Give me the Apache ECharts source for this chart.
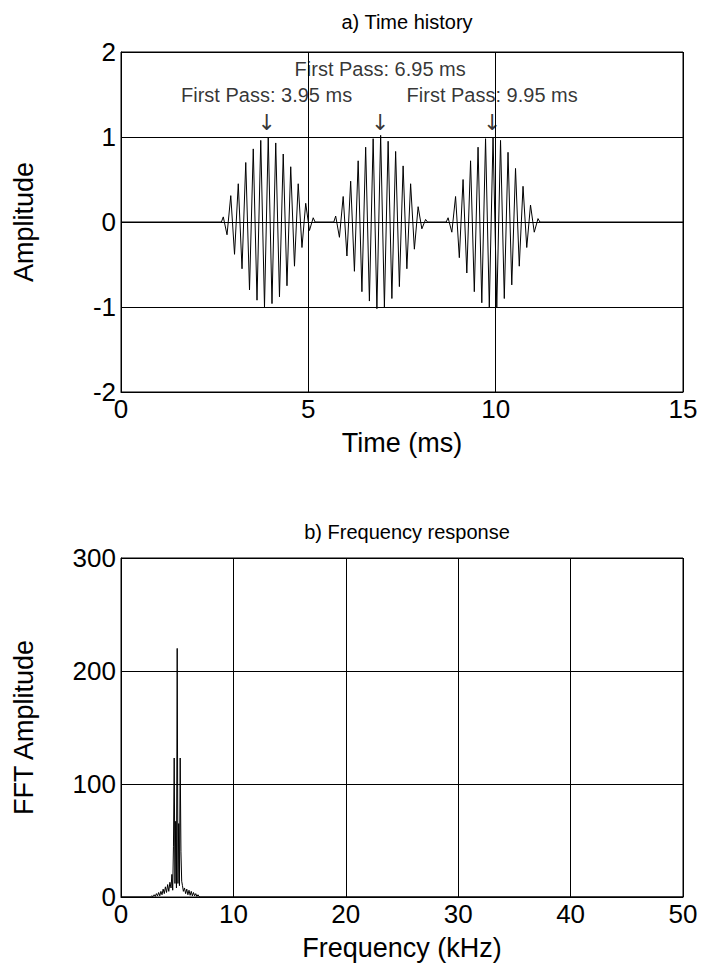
<!DOCTYPE html>
<html><head><meta charset="utf-8">
<script src="https://cdn.jsdelivr.net/npm/echarts@6/dist/echarts.min.js"></script>
<style>html,body{margin:0;padding:0;background:#fff}#c{width:701px;height:965px}</style>
</head><body><div id="c"></div>
<script>
// ---- Data: a) Time history ----
const timeTicks = [0, 5, 10, 15];
const ampTicks = [-2, -1, 0, 1, 2];
// peak times of each tone burst (ms)
const burstCenters = [3.93, 6.93, 9.93];
// times of extrema relative to the burst centre (ms)
const burstOffsets = [-1.25, -1.2, -1.1, -1.0, -0.9, -0.8, -0.7, -0.6, -0.5, -0.4, -0.3, -0.2, -0.1, 0.0,
  0.1, 0.2, 0.3, 0.4, 0.5, 0.6, 0.7, 0.8, 0.9, 1.0, 1.1, 1.2, 1.25];
const burst1Amp = [0, 0.06, -0.15, 0.31, -0.38, 0.45, -0.55, 0.70, -0.80, 0.86, -0.92, 0.96, -1.0, 1.0,
  -0.96, 0.93, -0.88, 0.80, -0.75, 0.65, -0.52, 0.45, -0.30, 0.22, -0.10, 0.05, 0];
const burst2Amp = [0, 0.07, -0.18, 0.30, -0.40, 0.48, -0.58, 0.72, -0.82, 0.88, -0.93, 0.98, -1.02, 1.02,
  -1.0, 0.95, -0.90, 0.83, -0.76, 0.66, -0.55, 0.45, -0.32, 0.18, -0.08, 0.03, 0];
const burst3Amp = [0, 0.05, -0.12, 0.30, -0.42, 0.50, -0.60, 0.72, -0.82, 0.88, -0.95, 0.98, -1.0, 1.0,
  -1.0, 0.96, -0.90, 0.82, -0.74, 0.63, -0.52, 0.42, -0.30, 0.20, -0.12, 0.04, 0];
const signalStart = [0, 0];
const signalEnd = [15, 0];

// annotations
const annotText = ['First Pass: 3.95 ms', 'First Pass: 6.95 ms', 'First Pass: 9.95 ms'];
const annotX = [3.9, 6.93, 9.92];
const annotY = [1.49, 1.80, 1.49];
const arrowY = [1.17, 1.17, 1.17];

// ---- Data: b) Frequency response ----
const freqTicks = [0, 10, 20, 30, 40, 50];
const fftTicks = [0, 100, 200, 300];
const specFreq = [0, 2.6, 2.75, 2.85, 2.95, 3.05, 3.15, 3.25, 3.35, 3.45, 3.55, 3.65, 3.75, 3.85, 3.95,
  4.05, 4.15, 4.25, 4.35, 4.45, 4.53, 4.6, 4.667, 4.733, 4.8, 4.867, 4.933, 5.0, 5.067, 5.133, 5.2,
  5.267, 5.333, 5.4, 5.47, 5.55, 5.65, 5.75, 5.85, 5.95, 6.05, 6.15, 6.25, 6.35, 6.45, 6.55, 6.65,
  6.75, 6.85, 6.95, 7.1, 50];
const specAmp = [0, 0, 1, 0.3, 2, 0.5, 3, 1, 4, 1, 5, 2, 7, 3, 9,
  4, 11, 5, 13, 8, 20, 6, 45, 123, 12, 67, 8, 220, 12, 65, 10,
  123, 40, 14, 10, 5, 8, 3, 7, 2, 6, 1.5, 5, 1, 4, 1, 3,
  0.5, 2, 0.3, 0, 0];

// ---- Build series data ----
const signalData = [signalStart];
[burst1Amp, burst2Amp, burst3Amp].forEach((amps, b) => {
  amps.forEach((a, i) => signalData.push([burstCenters[b] + burstOffsets[i], a]));
});
signalData.push(signalEnd);
const specData = specFreq.map((f, i) => [f, specAmp[i]]);
const annotData = annotX.map((x, i) => [x, annotY[i]]);
const arrowData = annotX.map((x, i) => [x, arrowY[i]]);

const FONT = '"Liberation Sans", Arial, sans-serif';
const FS = 26;      // tick labels
const FS_N = 27;    // axis names
const FS_T = 20;    // titles
const FS_A = 20;    // annotations
const chart = echarts.init(document.getElementById('c'), null, {renderer: 'svg'});

function xAx(gi, min, max, interval, name) {
  return {
    gridIndex: gi, type: 'value', min, max, interval, name,
    nameLocation: 'middle', nameGap: 37,
    nameTextStyle: {fontFamily: FONT, fontSize: FS_N, color: '#000'},
    axisLine: {show: true, onZero: false, lineStyle: {color: '#000', width: 1}},
    axisTick: {show: false},
    axisLabel: {fontFamily: FONT, fontSize: FS, color: '#000', margin: 4},
    splitLine: {show: true, lineStyle: {color: '#000', width: 1}}
  };
}
function yAx(gi, min, max, interval, name) {
  return {
    gridIndex: gi, type: 'value', min, max, interval, name,
    nameLocation: 'middle', nameGap: 84,
    nameTextStyle: {fontFamily: FONT, fontSize: FS_N, color: '#000'},
    axisLine: {show: true, lineStyle: {color: '#000', width: 1}},
    axisTick: {show: false},
    axisLabel: {fontFamily: FONT, fontSize: FS, color: '#000', margin: 5},
    splitLine: {show: true, lineStyle: {color: '#000', width: 1}}
  };
}
function labelSeries(data, fmt, font, size) {
  return {
    type: 'scatter', xAxisIndex: 0, yAxisIndex: 0, data, symbol: 'rect', symbolSize: 1,
    itemStyle: {color: 'transparent'}, silent: true, z: 6,
    label: {show: true, position: [0, 0], align: 'center', verticalAlign: 'middle',
      formatter: fmt, fontFamily: font, fontSize: size, color: '#000',
      textBorderWidth: 0, textBorderColor: 'transparent'},
    emphasis: {disabled: true}
  };
}

const option = {
  animation: false,
  backgroundColor: '#fff',
  title: [
    {text: 'a) Time history', left: 402, top: 7, textAlign: 'center',
      textStyle: {fontFamily: FONT, fontSize: FS_T, fontWeight: 'normal', color: '#000'}},
    {text: 'b) Frequency response', left: 402, top: 517, textAlign: 'center',
      textStyle: {fontFamily: FONT, fontSize: FS_T, fontWeight: 'normal', color: '#000'}}
  ],
  grid: [
    {left: 121, top: 52, width: 562, height: 340, show: true, borderColor: '#000', borderWidth: 1, containLabel: false},
    {left: 121, top: 558, width: 562, height: 339, show: true, borderColor: '#000', borderWidth: 1, containLabel: false}
  ],
  xAxis: [
    xAx(0, timeTicks[0], timeTicks[timeTicks.length - 1], timeTicks[1] - timeTicks[0], 'Time (ms)'),
    xAx(1, freqTicks[0], freqTicks[freqTicks.length - 1], freqTicks[1] - freqTicks[0], 'Frequency (kHz)')
  ],
  yAxis: [
    yAx(0, ampTicks[0], ampTicks[ampTicks.length - 1], ampTicks[1] - ampTicks[0], 'Amplitude'),
    yAx(1, fftTicks[0], fftTicks[fftTicks.length - 1], fftTicks[1] - fftTicks[0], 'FFT Amplitude')
  ],
  series: [
    {type: 'line', xAxisIndex: 0, yAxisIndex: 0, data: signalData, showSymbol: false,
      lineStyle: {color: '#000', width: 1}, z: 5},
    {type: 'line', xAxisIndex: 1, yAxisIndex: 1, data: specData, showSymbol: false,
      lineStyle: {color: '#000', width: 1}, z: 5},
    labelSeries(annotData, p => annotText[p.dataIndex], FONT, FS_A),
    labelSeries(arrowData, '\u2193', '"DejaVu Sans", sans-serif', 22)
  ]
};
chart.setOption(option);
</script>
</body></html>
